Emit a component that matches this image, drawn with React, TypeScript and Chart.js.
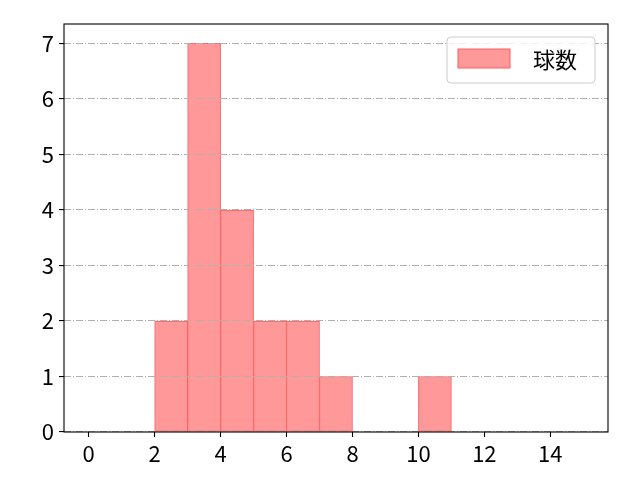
import { useEffect, useRef } from "react";
import { Chart, registerables } from "chart.js";

Chart.register(...registerables);

// histogram bins (left edge .. left edge + 1) and counts
const binCenters = [2.5, 3.5, 4.5, 5.5, 6.5, 7.5, 10.5];
const counts = [2, 7, 4, 2, 2, 1, 1];
const xTicks = [0, 2, 4, 6, 8, 10, 12, 14];
const yTicks = [0, 1, 2, 3, 4, 5, 6, 7];
const seriesLabel = "球数";

const FONT = '"Noto Sans CJK JP", "Noto Sans", sans-serif';
const FILL = "#ff9999";
const EDGE = "#ff5c5c";

// axes frame + legend box inside the plot
const framePlugin = {
  id: "frame",
  afterDraw(chart: Chart) {
    const { ctx, chartArea } = chart;
    ctx.save();
    ctx.strokeStyle = "#000";
    ctx.lineWidth = 1.1;
    ctx.strokeRect(chartArea.left, chartArea.top, chartArea.right - chartArea.left, chartArea.bottom - chartArea.top);

    const bx = chartArea.right - 161;
    const by = chartArea.top + 13;
    ctx.beginPath();
    ctx.roundRect(bx, by, 148, 46, 4);
    ctx.fillStyle = "rgba(255,255,255,0.8)";
    ctx.fill();
    ctx.strokeStyle = "#cccccc";
    ctx.lineWidth = 1;
    ctx.stroke();

    ctx.fillStyle = FILL;
    ctx.fillRect(bx + 11, by + 12, 52, 19);
    ctx.strokeStyle = EDGE;
    ctx.strokeRect(bx + 11, by + 12, 52, 19);

    ctx.fillStyle = "#000";
    ctx.font = `22px ${FONT}`;
    ctx.textBaseline = "middle";
    ctx.textAlign = "left";
    ctx.fillText(seriesLabel, bx + 86, by + 23);
    ctx.restore();
  },
};

export default function App() {
  const canvasRef = useRef<HTMLCanvasElement>(null);
  const chartRef = useRef<Chart | null>(null);

  useEffect(() => {
    document.body.style.margin = "0";
    if (!canvasRef.current) return;
    const ctx = canvasRef.current.getContext("2d");
    if (!ctx) return;

    if (chartRef.current) {
      chartRef.current.destroy();
    }

    chartRef.current = new Chart(ctx, {
      type: "bar",
      data: {
        datasets: [
          {
            label: seriesLabel,
            data: binCenters.map((x, i) => ({ x, y: counts[i] })),
            backgroundColor: FILL,
            borderColor: EDGE,
            borderWidth: 1,
            borderSkipped: false,
            barPercentage: 1,
            categoryPercentage: 1,
          },
        ],
      },
      options: {
        responsive: false,
        animation: false,
        devicePixelRatio: 1,
        layout: { padding: { top: 24, right: 32, left: 0, bottom: 0 } },
        scales: {
          x: {
            type: "linear",
            min: -0.75,
            max: 15.75,
            offset: false,
            afterBuildTicks: (s) => {
              s.ticks = xTicks.map((v) => ({ value: v }));
            },
            afterFit: (s) => {
              s.height = 48;
            },
            border: { display: false },
            grid: {
              offset: false,
              drawOnChartArea: false,
              drawTicks: true,
              tickLength: 5,
              tickColor: "#000",
              tickWidth: 1.1,
            },
            ticks: {
              color: "#000",
              font: { family: FONT, size: 22 },
              padding: 3,
              maxRotation: 0,
              autoSkip: false,
            },
          },
          y: {
            min: 0,
            max: 7.35,
            afterBuildTicks: (s) => {
              s.ticks = yTicks.map((v) => ({ value: v }));
            },
            afterFit: (s) => {
              s.width = 64;
            },
            border: { display: false, dash: [7, 2, 1, 2] },
            grid: {
              z: 1,
              color: "#b0b0b0",
              lineWidth: 1.1,
              tickBorderDash: [],
              tickLength: 5,
              tickColor: "#000",
              tickWidth: 1.1,
            },
            ticks: {
              color: "#000",
              font: { family: FONT, size: 22 },
              padding: 5,
              autoSkip: false,
            },
          },
        },
        plugins: {
          legend: { display: false },
          tooltip: { enabled: false },
        },
      },
      plugins: [framePlugin],
    });

    return () => {
      if (chartRef.current) {
        chartRef.current.destroy();
        chartRef.current = null;
      }
    };
  }, []);

  return (
    <div style={{ width: 640, height: 480 }}>
      <canvas ref={canvasRef} width={640} height={480}></canvas>
    </div>
  );
}
